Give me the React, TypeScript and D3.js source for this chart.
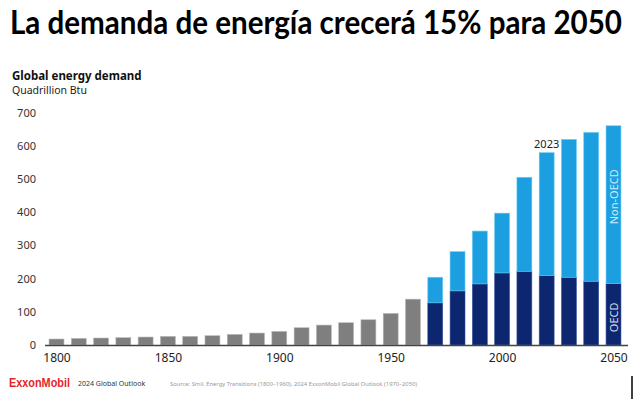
import React, { useEffect, useRef } from "react";
import * as d3 from "d3";

// historic (Smil) decades, single total
const histYears = [1800, 1810, 1820, 1830, 1840, 1850, 1860, 1870, 1880, 1890, 1900, 1910, 1920, 1930, 1940, 1950, 1960];
const histTotal = [18, 20, 21, 22, 24, 26, 26, 28, 32, 36, 41, 52, 60, 67, 76, 95, 138];

// outlook decades, stacked OECD + Non-OECD
const outYears = [1970, 1980, 1990, 2000, 2010, 2020, 2030, 2040, 2050];
const oecd = [127, 163, 184, 217, 222, 209, 204, 192, 185];
const nonOecd = [77, 118, 159, 180, 283, 370, 415, 448, 475];

const yTicks = [0, 100, 200, 300, 400, 500, 600, 700];
const xTicks = [1800, 1850, 1900, 1950, 2000, 2050];

const W = 633;
const H = 399;

const App: React.FC = () => {
  const svgRef = useRef<SVGSVGElement>(null);

  useEffect(() => {
    if (!svgRef.current) return;
    const svg = d3.select(svgRef.current);
    svg.selectAll("*").remove();

    const font = "'Noto Sans', 'Open Sans', sans-serif";

    svg.append("rect").attr("width", W).attr("height", H).attr("fill", "#fff");

    // title (narrow font, stretched a bit vertically to match)
    svg
      .append("text")
      .attr("transform", "translate(10,34) scale(1,1.12)")
      .attr("textLength", 612)
      .attr("lengthAdjust", "spacingAndGlyphs")
      .attr("font-family", "Lato, sans-serif")
      .attr("font-weight", 700)
      .attr("font-size", 29)
      .attr("fill", "#000")
      .text("La demanda de energía crecerá 15% para 2050");

    svg
      .append("text")
      .attr("x", 12)
      .attr("y", 79.5)
      .attr("font-family", font)
      .attr("font-weight", 700)
      .attr("font-size", 11.5)
      .attr("fill", "#111")
      .text("Global energy demand");
    svg
      .append("text")
      .attr("x", 12)
      .attr("y", 94)
      .attr("font-family", font)
      .attr("font-size", 10.5)
      .attr("fill", "#222")
      .text("Quadrillion Btu");

    const x = d3.scaleLinear().domain([1800, 2050]).range([56.5, 613.5]);
    const y = d3.scaleLinear().domain([0, 700]).range([345, 112.5]);
    const bw = (x(1810) - x(1800)) * 0.67;

    // y labels
    svg
      .append("g")
      .selectAll("text")
      .data(yTicks)
      .join("text")
      .attr("x", 36)
      .attr("y", (d) => y(d) + 4)
      .attr("text-anchor", "end")
      .attr("font-family", font)
      .attr("font-size", 11)
      .attr("fill", "#333")
      .text((d) => d);

    // historic bars
    svg
      .append("g")
      .selectAll("rect")
      .data(histYears)
      .join("rect")
      .attr("x", (d) => x(d) - bw / 2)
      .attr("y", (d, i) => y(histTotal[i]))
      .attr("width", bw)
      .attr("height", (d, i) => y(0) - y(histTotal[i]))
      .attr("fill", "#7f7f7f")
      .attr("stroke", "#b8b8b8")
      .attr("stroke-width", 0.6);

    // stacked bars
    const rows = outYears.map((yr, i) => ({ yr, oecd: oecd[i], nonOecd: nonOecd[i] }));
    const stack = d3.stack<any>().keys(["oecd", "nonOecd"])(rows);
    const colors = ["#0c2670", "#1c9fe0"];
    const strokes = ["#3a57a0", "#6ccaf2"];
    stack.forEach((layer, k) => {
      svg
        .append("g")
        .selectAll("rect")
        .data(layer)
        .join("rect")
        .attr("x", (d: any) => x(d.data.yr) - bw / 2)
        .attr("y", (d: any) => y(d[1]))
        .attr("width", bw)
        .attr("height", (d: any) => y(d[0]) - y(d[1]))
        .attr("fill", colors[k])
        .attr("stroke", strokes[k])
        .attr("stroke-width", 0.6);
    });

    // baseline
    svg
      .append("line")
      .attr("x1", 45)
      .attr("x2", 628)
      .attr("y1", y(0) + 0.5)
      .attr("y2", y(0) + 0.5)
      .attr("stroke", "#444")
      .attr("stroke-width", 1.5);

    // x axis labels
    const xAxis = svg
      .append("g")
      .attr("transform", `translate(0,${y(0) + 5})`)
      .call(d3.axisBottom(x).tickValues(xTicks).tickFormat(d3.format("d")).tickSize(0));
    xAxis.select(".domain").remove();
    xAxis
      .selectAll("text")
      .attr("font-family", font)
      .attr("font-size", 12)
      .attr("fill", "#222");

    // annotations
    const last = outYears.length - 1;
    svg
      .append("text")
      .attr("x", x(2020))
      .attr("y", y(oecd[5] + nonOecd[5]) - 5)
      .attr("text-anchor", "middle")
      .attr("font-family", font)
      .attr("font-size", 11)
      .attr("fill", "#222")
      .text("2023");
    svg
      .append("text")
      .attr("transform", `translate(${x(2050) + 4},${y(oecd[last] + nonOecd[last] * 0.55)}) rotate(-90)`)
      .attr("text-anchor", "middle")
      .attr("font-family", font)
      .attr("font-size", 11)
      .attr("fill", "#cfeaf8")
      .text("Non-OECD");
    svg
      .append("text")
      .attr("transform", `translate(${x(2050) + 4},${y(oecd[last] * 0.45)}) rotate(-90)`)
      .attr("text-anchor", "middle")
      .attr("font-family", font)
      .attr("font-size", 11)
      .attr("fill", "#d6ddef")
      .text("OECD");

    // footer
    svg
      .append("text")
      .attr("x", 9)
      .attr("y", 387)
      .attr("textLength", 61)
      .attr("lengthAdjust", "spacingAndGlyphs")
      .attr("font-family", "'Liberation Sans', sans-serif")
      .attr("font-weight", 700)
      .attr("font-size", 13)
      .attr("fill", "#e3262e")
      .text("ExxonMobil");
    svg
      .append("text")
      .attr("x", 78)
      .attr("y", 386)
      .attr("font-family", font)
      .attr("font-size", 7)
      .attr("fill", "#333")
      .text("2024 Global Outlook");
    svg
      .append("text")
      .attr("x", 170)
      .attr("y", 386)
      .attr("textLength", 247)
      .attr("lengthAdjust", "spacingAndGlyphs")
      .attr("font-family", font)
      .attr("font-size", 6)
      .attr("fill", "#999")
      .text("Source: Smil, Energy Transitions (1800–1960), 2024 ExxonMobil Global Outlook (1970–2050)");

    svg
      .append("line")
      .attr("x1", 632)
      .attr("x2", 632)
      .attr("y1", 376)
      .attr("y2", 399)
      .attr("stroke", "#000")
      .attr("stroke-width", 1.5);
  }, []);

  return (
    <svg
      ref={svgRef}
      width={W}
      height={H}
      style={{ position: "absolute", left: 0, top: 0, display: "block" }}
    />
  );
};

export default App;
